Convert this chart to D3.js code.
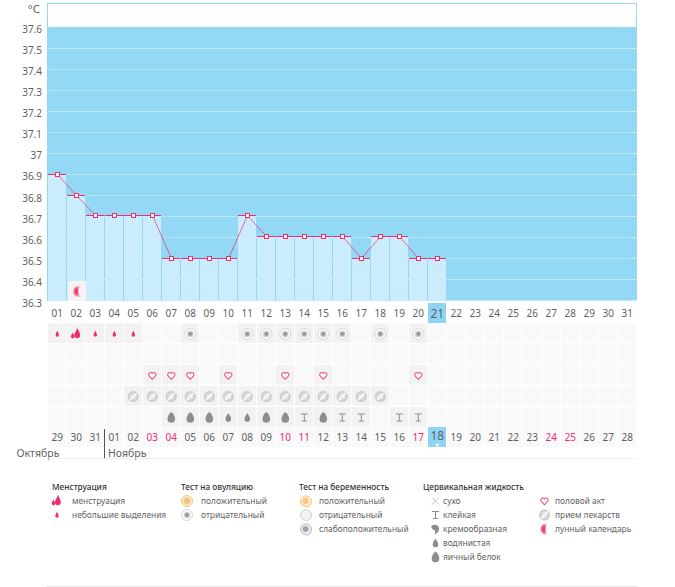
<!DOCTYPE html>
<html><head><meta charset="utf-8">
<script src="https://cdnjs.cloudflare.com/ajax/libs/d3/7.8.5/d3.min.js"></script>
<style>html,body{margin:0;padding:0;background:#fff}svg{display:block}text{font-family:"Noto Sans",sans-serif}</style>
</head><body><svg id="c" width="675" height="587"></svg>
<script>
const cycleDays=d3.range(1,32).map(d=>String(d).padStart(2,"0"));
const tempTicks=[37.6,37.5,37.4,37.3,37.2,37.1,37,36.9,36.8,36.7,36.6,36.5,36.4,36.3];
const temps=[36.9,36.8,36.7,36.7,36.7,36.7,36.5,36.5,36.5,36.5,36.7,36.6,36.6,36.6,36.6,36.6,36.5,36.6,36.6,36.5,36.5];
const calendarDays=["29","30","31","01","02","03","04","05","06","07","08","09","10","11","12","13","14","15","16","17","18","19","20","21","22","23","24","25","26","27","28"];
const redCalendarIdx=[5,6,12,13,19,26,27];
const todayIdx=20;
const rowTop=[{day:1,k:"small"},{day:2,k:"big"},{day:3,k:"small"},{day:4,k:"small"},{day:5,k:"small"},
 {day:8,k:"ovNeg"},{day:11,k:"ovNeg"},{day:12,k:"ovNeg"},{day:13,k:"ovNeg"},{day:14,k:"ovNeg"},{day:15,k:"ovNeg"},{day:16,k:"ovNeg"},{day:18,k:"ovNeg"},{day:20,k:"ovNeg"}];
const rowPreg=[];
const rowSex=[6,7,8,10,13,15,20].map(day=>({day,k:"heart"}));
const rowPill=[5,6,7,8,9,10,11,12,13,14,15,16,17,18].map(day=>({day,k:"pill"}));
const rowFluid=[[7,"egg"],[8,"egg"],[9,"egg"],[10,"water"],[11,"water"],[12,"egg"],[13,"egg"],[14,"sticky"],[15,"egg"],[16,"sticky"],[17,"sticky"],[19,"sticky"],[20,"sticky"]].map(([day,k])=>({day,k}));
const rows=[rowTop,rowPreg,rowSex,rowPill,rowFluid];
const legendGroups=[
 {x:52,title:"Менструация",ix:57,tx:72,items:[["big","менструация"],["small","небольшие выделения"]]},
 {x:181,title:"Тест на овуляцию",ix:187,tx:201,items:[["ovPos","положительный"],["ovNeg","отрицательный"]]},
 {x:299,title:"Тест на беременность",ix:306,tx:319,items:[["prPos","положительный"],["prNeg","отрицательный"],["prWeak","слабоположительный"]]},
 {x:423,title:"Цервикальная жидкость",ix:435.5,tx:443,items:[["dry","сухо"],["sticky","клейкая"],["creamy","кремообразная"],["water","водянистая"],["egg","яичный белок"]]},
 {x:544,title:"",ix:544.5,tx:555,items:[["heart","половой акт"],["pill","прием лекарств"],["moon","лунный календарь"]]}
];
const svg=d3.select("#c");
const defs=svg.append("defs");
const lg=(id,c)=>{const g=defs.append("radialGradient").attr("id",id);c.forEach((s,i)=>g.append("stop").attr("offset",i/(c.length-1)).attr("stop-color",s));};
lg("gPill",["#eeeeee","#e0e0e0","#c4c4c4"]);lg("gOv",["#808080","#b0b0b0","#ececec"]);lg("gPos",["#f0a840","#f6c87c","#f8d49a"]);
lg("gMoon",["#ee2f6c","#f0507f","#f9b5ca"]);
const X=d3.scaleLinear().domain([1,32]).range([48,637]);
const cx=d=>X(d)+9.3;
const Y=d3.scaleLinear().domain([37.6,36.3]).range([27,300.9]);
const markY=d3.scaleLinear().domain([36.9,36.8,36.7,36.6,36.5]).range([174,195,215,236,258]);
const PINK="#ee2f6c",GR="#8d8d8d",TXT="#5f5f5f";
const icon={
 small:g=>g.append("path").attr("d","M0,-3.5C.5,-1.8 1.7,-.6 1.7,1A1.7,1.7 0 0 1 -1.7,1C-1.7,-.6 -.5,-1.8 0,-3.5Z").attr("fill",PINK),
 big:g=>{g.append("path").attr("d","M1,-6.5C1.6,-3.5 3.8,-2 3.8,1A2.9,2.9 0 0 1 -2,1.5C-2,-1.5 .5,-3 1,-6.5Z").attr("fill",PINK);
  g.append("path").attr("d","M-3.6,-1.5C-3.2,0 -1.8,1 -1.8,2.6A1.8,1.8 0 0 1 -5.4,2.6C-5.4,1 -4,0 -3.6,-1.5Z").attr("fill",PINK);},
 ovNeg:g=>{g.append("circle").attr("r",5.5).attr("fill","#fbfbfb").attr("stroke","#d8d8d8");g.append("circle").attr("r",3.6).attr("fill","url(#gOv)");},
 ovPos:g=>{g.append("circle").attr("r",5.5).attr("fill","#fff2dc").attr("stroke","#f4c27a");g.append("circle").attr("r",3.8).attr("fill","url(#gPos)");},
 prPos:g=>{g.append("path").attr("d","M-5.5,0A5.5,5.5 0 1 1 3,5L1,6.5L0,5.5A5.5,5.5 0 0 1 -5.5,0Z").attr("fill","#fdebd0").attr("stroke","#f4c27a");g.append("circle").attr("r",3).attr("cx",-.5).attr("fill","#f6c87c");},
 prNeg:g=>{g.append("path").attr("d","M-5.5,0A5.5,5.5 0 1 1 3,5L1,6.5L0,5.5A5.5,5.5 0 0 1 -5.5,0Z").attr("fill","#f3f3f3").attr("stroke","#cfcfcf");},
 prWeak:g=>{g.append("path").attr("d","M-5.5,0A5.5,5.5 0 1 1 3,5L1,6.5L0,5.5A5.5,5.5 0 0 1 -5.5,0Z").attr("fill","#eee").attr("stroke","#b5b5b5");g.append("circle").attr("r",3).attr("cx",-.5).attr("fill","#a5a5a5");},
 heart:g=>g.append("path").attr("d","M0,3.8L-3.4,.2A2.1,2.1 0 0 1 0,-2.2A2.1,2.1 0 0 1 3.4,.2Z").attr("fill","#fff").attr("stroke","#f2508a").attr("stroke-width",1.1),
 pill:g=>{g.append("circle").attr("r",5.3).attr("fill","url(#gPill)").attr("stroke","#cccccc").attr("stroke-width",.5);g.append("line").attr("x1",-3.4).attr("y1",3.4).attr("x2",3.4).attr("y2",-3.4).attr("stroke","#fff").attr("stroke-width",1.4);},
 egg:g=>g.append("path").attr("d","M0,-5.5C2,-4 3.8,-1 3.8,1.4A3.8,3.8 0 0 1 -3.8,1.4C-3.8,-1 -2,-4 0,-5.5Z").attr("fill",GR),
 water:g=>g.append("path").attr("d","M0,-4.5C1,-2.5 2.8,-.8 2.8,1.4A2.8,2.8 0 0 1 -2.8,1.4C-2.8,-.8 -1,-2.5 0,-4.5Z").attr("fill",GR),
 sticky:g=>g.append("path").attr("d","M-3.5,-3.5H3.5M-2.5,3.5H2.5M0,-3.5V3.5").attr("stroke",GR).attr("stroke-width",1).attr("fill","none"),
 dry:g=>g.append("path").attr("d","M-3.5,-3.5L3.5,3.5M-3.5,3.5L3.5,-3.5").attr("stroke","#999").attr("stroke-width",.6),
 creamy:g=>g.append("path").attr("d","M-3.5,-3.5C0,-5.5 4,-3.5 3.5,.5C3.2,3 1,5 -1,5.5C0,3.5 0,2 -1.5,1C-3.5,.5 -5,-2 -3.5,-3.5Z").attr("fill",GR),
 moon:g=>{g.append("path").attr("d","M3,-5.2A5.5,5.5 0 1 0 3,5.2A7.5,7.5 0 0 1 3,-5.2Z").attr("fill","url(#gMoon)");}
};
svg.append("rect").attr("x",47.5).attr("y",3.5).attr("width",589).attr("height",24).attr("fill","#fff").attr("stroke","#93d8f4");
svg.append("rect").attr("x",47).attr("y",27).attr("width",590).attr("height",Y(36.3)-27).attr("fill","#93d8f4");
svg.append("g").selectAll("line").data(tempTicks.slice(1)).join("line")
 .attr("x1",48).attr("x2",637).attr("y1",d=>Math.floor(Y(d))+.5).attr("y2",d=>Math.floor(Y(d))+.5)
 .attr("stroke","#fff").attr("stroke-opacity",.75).attr("stroke-dasharray","1,1");
svg.append("g").selectAll("rect").data(temps).join("rect")
 .attr("x",(d,i)=>X(i+1)).attr("width",18).attr("y",d=>markY(d)).attr("height",d=>Y(36.3)-markY(d)).attr("fill","#cbecfd");
svg.append("g").selectAll("text").data(tempTicks).join("text").attr("x",42).attr("y",d=>Y(d)+6)
 .attr("text-anchor","end").attr("font-size",10).attr("fill",TXT).text(d=>d);
svg.append("text").attr("x",40).attr("y",12.5).attr("text-anchor","end").attr("font-size",11.5).attr("fill",TXT).text("°C");
const mg=svg.append("g").attr("transform",`translate(${cx(2)},${Y(36.3)-9.5})`);
mg.append("rect").attr("x",-8.3).attr("y",-10.4).attr("width",18).attr("height",20).attr("fill","#f7f2f3");
icon.moon(mg.append("g").attr("transform","translate(1,0)"));
svg.append("path").datum(temps).attr("fill","none").attr("stroke",PINK).attr("stroke-width",.9).attr("stroke-dasharray","2,.6")
 .attr("d",d3.line().x((d,i)=>Math.round(cx(i+1))+.5).y(d=>markY(d)+.5));
svg.append("g").selectAll("line").data(temps).join("line")
 .attr("x1",(d,i)=>X(i+1)).attr("x2",(d,i)=>X(i+1)+18).attr("y1",d=>markY(d)+.5).attr("y2",d=>markY(d)+.5)
 .attr("stroke",PINK).attr("stroke-width",1);
svg.append("g").selectAll("rect").data(temps).join("rect")
 .attr("x",(d,i)=>Math.round(cx(i+1))-1.5).attr("y",d=>markY(d)-1.5).attr("width",4).attr("height",4)
 .attr("fill",(d,i)=>i===temps.length-1?"#e8f5fc":"#fff").attr("stroke",PINK).attr("stroke-width",1);
const today=temps.length-1;
svg.append("rect").attr("x",X(today+1)).attr("y",303).attr("width",18).attr("height",20).attr("fill","#8ed5f5");
svg.append("g").selectAll("text").data(cycleDays).join("text").attr("x",(d,i)=>cx(i+1)).attr("y",(d,i)=>i===today?317.5:316.5)
 .attr("text-anchor","middle").attr("font-size",(d,i)=>i===today?12:10).attr("fill",TXT).text(d=>d);
const rowY=[323.5,344.5,365,386,407];
rows.forEach((r,ri)=>{
 const g=svg.append("g");
 g.selectAll("rect").data(cycleDays).join("rect").attr("x",(d,i)=>X(i+1)).attr("y",rowY[ri]).attr("width",18).attr("height",19.5).attr("fill","#f9f8fa");
 g.selectAll("rect.a").data(r).join("rect").attr("class","a").attr("x",d=>X(d.day)).attr("y",rowY[ri]).attr("width",18).attr("height",19.5).attr("fill","#f2f2f3");
 r.forEach(d=>icon[d.k](g.append("g").attr("transform",`translate(${cx(d.day)},${rowY[ri]+10.5})`)));
});
const cg=svg.append("g");
cg.selectAll("rect").data(calendarDays).join("rect").attr("x",(d,i)=>X(i+1)).attr("y",427).attr("width",18).attr("height",20)
 .attr("fill",(d,i)=>i===todayIdx?"#8ed5f5":"#f9f8fa");
cg.selectAll("text").data(calendarDays).join("text").attr("x",(d,i)=>cx(i+1)).attr("y",(d,i)=>i===todayIdx?440:441)
 .attr("text-anchor","middle").attr("font-size",(d,i)=>i===todayIdx?12:10)
 .attr("fill",(d,i)=>redCalendarIdx.includes(i)?PINK:TXT).text(d=>d);
svg.append("path").attr("d",d3.symbol(d3.symbolStar,7)()).attr("transform",`translate(${cx(todayIdx+1)},445)`).attr("fill","#fff");
svg.append("line").attr("x1",104.5).attr("x2",104.5).attr("y1",429).attr("y2",458).attr("stroke","#555");
svg.append("text").attr("x",16.5).attr("y",457).attr("font-size",10.5).attr("fill",TXT).text("Октябрь");
svg.append("text").attr("x",108).attr("y",457).attr("font-size",10.5).attr("fill",TXT).text("Ноябрь");
svg.append("line").attr("x1",47).attr("x2",637).attr("y1",458.5).attr("y2",458.5).attr("stroke","#eee");
const ly=[501,515,529,543,557];
legendGroups.forEach(gr=>{
 if(gr.title)svg.append("text").attr("x",gr.x).attr("y",490).attr("font-size",8.3).attr("fill","#333").attr("font-weight",500).text(gr.title);
 gr.items.forEach(([k,t],i)=>{
  icon[k](svg.append("g").attr("transform",`translate(${gr.ix},${ly[i]})`));
  svg.append("text").attr("x",gr.tx).attr("y",ly[i]+3).attr("font-size",8.4).attr("fill",TXT).text(t);
 });
});
svg.append("line").attr("x1",46).attr("x2",637).attr("y1",586.5).attr("y2",586.5).attr("stroke","#e8e8e8");
</script></body></html>
